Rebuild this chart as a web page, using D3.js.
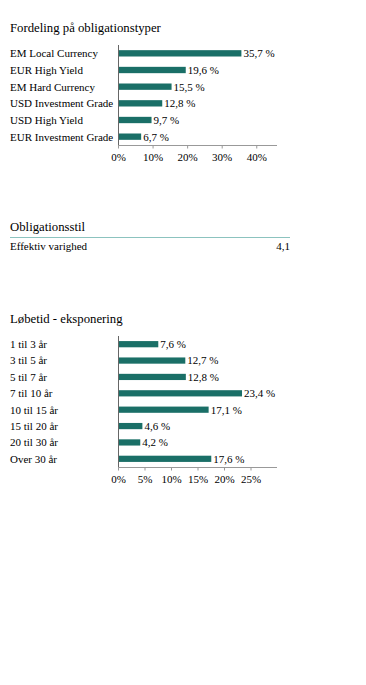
<!DOCTYPE html>
<html><head><meta charset="utf-8">
<script src="https://cdn.jsdelivr.net/npm/d3@7/dist/d3.min.js"></script>
<style>
body{margin:0;background:#fff;}
</style></head>
<body><svg id="c" width="366" height="685"></svg>
<script>
const typeCategories = ["EM Local Currency","EUR High Yield","EM Hard Currency","USD Investment Grade","USD High Yield","EUR Investment Grade"];
const typeValues = [35.7,19.6,15.5,12.8,9.7,6.7];
const typeTicks = [0,10,20,30,40];

const styleLabels = ["Effektiv varighed"];
const styleValues = ["4,1"];

const matCategories = ["1 til 3 år","3 til 5 år","5 til 7 år","7 til 10 år","10 til 15 år","15 til 20 år","20 til 30 år","Over 30 år"];
const matValues = [7.6,12.7,12.8,23.4,17.1,4.6,4.2,17.6];
const matTicks = [0,5,10,15,20,25];

const FONT = "'Liberation Serif', Tinos, 'Times New Roman', Times, serif";
const svg = d3.select("#c").style("font-family", FONT);
const barColor = "#1a6f67";
const axisColor = "#999";
const yAxisColor = "#666";
const txt = "#000";
const FS = 11;
const fmt = v => d3.format(".1f")(v).replace(".", ",") + " %";

function barChart(title, titleY, cats, vals, ticks, domainMax, top, bottom){
  svg.append("text").attr("x",10).attr("y",titleY).attr("font-size",12.75).attr("fill",txt).text(title);
  const x = d3.scaleLinear().domain([0,domainMax]).range([118,277]);
  const y = d3.scaleBand().domain(cats).range([top,bottom]).paddingInner(0.62).paddingOuter(0.31);
  const g = svg.append("g");
  g.selectAll("rect").data(vals).join("rect")
    .attr("x",x(0)).attr("y",(d,i)=>y(cats[i]))
    .attr("width",d=>x(d)-x(0)).attr("height",y.bandwidth())
    .attr("fill",barColor);
  g.selectAll("text.v").data(vals).join("text").attr("class","v")
    .attr("x",d=>x(d)+2).attr("y",(d,i)=>y(cats[i])+y.bandwidth()/2)
    .attr("dy","0.35em").attr("font-size",FS).attr("fill",txt).text(fmt);
  g.selectAll("text.c").data(cats).join("text").attr("class","c")
    .attr("x",10).attr("y",d=>y(d)+y.bandwidth()/2)
    .attr("dy","0.35em").attr("font-size",FS).attr("fill",txt).text(d=>d);
  g.append("line").attr("x1",x(0)+0.5).attr("x2",x(0)+0.5).attr("y1",top).attr("y2",bottom)
    .attr("stroke",yAxisColor);
  const ax = d3.axisBottom(x).tickValues(ticks).tickSize(3).tickFormat(d=>d+"%");
  const ag = svg.append("g").attr("transform",`translate(0,${bottom+0.5})`).call(ax);
  ag.attr("font-family", null);
  ag.select(".domain").attr("stroke",axisColor).attr("d",`M${x(0)},0H${x(domainMax)}`);
  ag.selectAll(".tick line").attr("stroke",axisColor);
  ag.selectAll(".tick text").attr("font-size",FS).attr("fill",txt).attr("dy","0.85em");
}

barChart("Fordeling på obligationstyper", 32, typeCategories, typeValues, typeTicks, 46, 45, 145);

svg.append("text").attr("x",10).attr("y",231).attr("font-size",12.75).attr("fill",txt).text("Obligationsstil");
svg.append("line").attr("x1",10).attr("x2",290).attr("y1",237.5).attr("y2",237.5).attr("stroke","#8cc3bf");
styleLabels.forEach((l,i)=>{
  svg.append("text").attr("x",10).attr("y",250+i*16).attr("font-size",FS).attr("fill",txt).text(l);
  svg.append("text").attr("x",290).attr("y",250+i*16).attr("font-size",FS).attr("text-anchor","end").attr("fill",txt).text(styleValues[i]);
});

barChart("Løbetid - eksponering", 323, matCategories, matValues, matTicks, 30, 336, 467);
</script></body></html>
